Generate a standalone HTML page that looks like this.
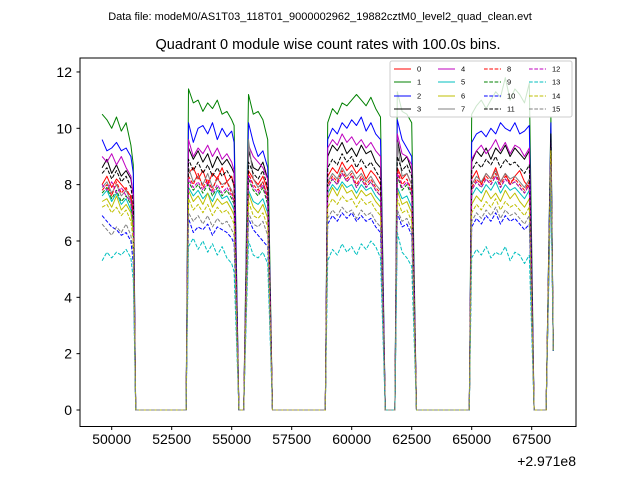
<!DOCTYPE html>
<html><head><meta charset="utf-8"><style>
body{margin:0;background:#fff;}
svg{display:block;font-family:"Liberation Sans","DejaVu Sans",sans-serif;}
</style></head><body>
<svg id="chart" width="640" height="480" viewBox="0 0 640 480">
<rect width="640" height="480" fill="#fff"/>
<text x="320" y="20" font-size="11" text-anchor="middle">Data file: modeM0/AS1T03_118T01_9000002962_19882cztM0_level2_quad_clean.evt</text>
<text x="328" y="49" font-size="14.5" text-anchor="middle">Quadrant 0 module wise count rates with 100.0s bins.</text>
<g id="plot"></g>
<rect x="80" y="58" width="496" height="368.5" fill="none" stroke="#000" stroke-width="1"/>
<g id="xt"></g>
<g id="yt"></g>
<text x="576" y="466" font-size="14" text-anchor="end">+2.971e8</text>
<g id="legend"></g>
</svg>
<script>
const segTimes=[[49600,49800,50000,50200,50400,50600,50800,50900],
[53200,53400,53600,53800,54000,54200,54400,54600,54800,55000,55100],
[55700,55900,56100,56300,56500],
[59000,59200,59400,59600,59800,60000,60200,60400,60600,60800,61000,61200],
[61900,62100,62300,62500],
[65000,65200,65400,65600,65800,66000,66200,66400,66600,66800,67000,67200,67400],
[68300,68400]];
const gapTimes=[[51000,53100],[55300,55500],[56700,58900],[61400,61800],[62700,64900],[67600,68100]];
const xTicks=[50000,52500,55000,57500,60000,62500,65000,67500];
const yTicks=[0,2,4,6,8,10,12];
const labels=["0","1","2","3","4","5","6","7","8","9","10","11","12","13","14","15"];
const s0=[8.0,8.3,7.9,8.2,8.0,7.8,7.6,7.0, 8.4,8.6,8.2,8.5,8.0,8.4,8.2,8.6,8.1,8.3,7.9, 8.5,8.2,8.0,8.3,7.8, 8.3,8.6,8.4,8.8,8.5,8.7,8.4,8.6,8.2,8.5,8.3,8.0, 8.6,8.2,8.4,8.0, 8.2,8.5,8.0,8.4,8.2,8.6,8.1,8.4,8.0,8.3,8.5,8.1,7.9, 9.2,2.1];
const s1=[10.5,10.3,10.0,10.4,9.9,10.2,9.4,8.7, 11.4,10.9,11.0,10.6,10.9,10.7,11.0,10.5,10.6,10.3,10.1, 11.2,10.5,10.6,10.3,9.6, 10.2,10.7,10.5,10.9,10.8,11.0,11.2,11.0,10.8,11.1,10.7,10.4, 11.3,10.6,10.5,10.2, 10.5,10.8,11.0,10.7,11.0,11.3,11.1,11.8,11.0,11.4,11.2,10.9,11.6, 10.4,2.1];
const s2=[9.6,9.2,9.3,9.5,9.2,9.3,9.0,8.4, 10.2,9.5,10.0,10.1,9.8,10.2,9.6,10.0,9.7,9.9,9.5, 10.2,9.5,9.0,9.2,8.6, 9.6,10.0,9.8,10.2,10.0,10.3,10.1,10.4,9.9,10.2,9.8,9.6, 10.3,9.6,9.3,9.0, 9.5,9.8,9.9,9.7,10.0,9.8,10.2,10.0,9.9,10.2,9.8,9.9,10.1, 10.2,2.1];
const s3=[8.6,8.9,8.4,8.7,8.3,8.5,8.2,7.6, 9.3,8.9,9.2,8.8,9.1,8.6,9.0,8.7,8.9,8.6,8.4, 9.2,8.6,8.5,8.8,8.2, 9.0,9.4,9.2,9.5,9.1,9.3,9.0,9.4,9.1,9.2,8.8,8.6, 9.6,8.8,9.0,8.5, 8.8,9.2,9.0,9.3,8.9,9.3,9.1,9.4,9.0,9.3,9.1,8.9,9.2, 9.8,2.1];
const s4=[9.0,8.8,9.1,8.7,9.0,8.6,8.3,7.6, 9.6,9.0,9.3,9.1,9.4,9.0,9.3,8.9,9.1,8.8,8.5, 9.4,9.0,8.8,8.6,8.2, 9.3,9.6,9.4,9.8,9.5,9.7,9.4,9.6,9.3,9.5,9.2,9.0, 9.8,9.1,9.0,8.7, 8.9,9.2,9.4,9.1,9.3,9.6,9.2,9.5,9.1,9.4,9.3,9.0,9.3, 9.5,2.1];
const s5=[7.6,7.8,7.4,7.7,7.3,7.5,7.1,6.4, 7.9,7.6,7.8,7.5,7.7,7.4,7.8,7.5,7.6,7.3,7.1, 7.8,7.4,7.3,7.5,7.0, 7.7,8.0,7.8,8.1,7.9,8.0,7.7,8.0,7.8,7.9,7.6,7.4, 7.9,7.5,7.6,7.2, 7.6,7.9,7.7,8.0,7.8,8.1,7.7,8.0,7.8,7.9,7.7,7.5,7.8, 8.6,2.1];
const s6=[7.4,7.5,7.2,7.6,7.1,7.3,7.0,6.3, 7.8,7.4,7.6,7.3,7.7,7.2,7.5,7.3,7.4,7.1,6.9, 7.7,7.2,7.0,7.3,6.8, 7.5,7.9,7.6,8.0,7.7,7.8,7.5,7.8,7.6,7.7,7.4,7.2, 7.8,7.3,7.4,7.0, 7.3,7.6,7.4,7.8,7.5,7.7,7.4,7.8,7.5,7.7,7.4,7.2,7.5, 9.3,2.1];
const s7=[7.9,8.1,7.7,8.0,7.6,7.8,7.4,6.8, 8.6,8.1,8.3,8.0,8.4,7.9,8.2,8.0,8.1,7.8,7.6, 9.6,8.2,7.9,8.1,7.6, 8.1,8.4,8.2,8.6,8.3,8.5,8.2,8.4,8.1,8.3,8.0,7.8, 9.5,8.3,8.4,8.0, 8.0,8.3,8.1,8.4,8.2,8.5,8.1,8.4,8.2,8.3,8.1,7.9,8.2, 9.0,2.1];
const s8=[7.8,8.0,7.6,8.1,7.7,7.9,7.5,6.9, 8.3,8.0,8.4,7.9,8.2,7.8,8.3,7.9,8.1,7.7,7.5, 8.4,8.0,7.8,8.1,7.5, 8.0,8.3,8.1,8.5,8.2,8.4,8.0,8.3,8.0,8.2,7.9,7.7, 8.5,8.0,8.2,7.8, 7.9,8.2,8.0,8.3,8.1,8.4,8.0,8.3,8.1,8.2,8.0,7.8,8.1, 9.0,2.1];
const s9=[7.7,7.9,7.5,7.8,7.4,7.6,7.3,6.6, 8.1,7.8,8.0,7.7,8.0,7.6,7.9,7.6,7.8,7.5,7.3, 8.2,7.8,7.6,7.9,7.3, 7.9,8.2,8.0,8.4,8.1,8.3,7.9,8.2,7.9,8.1,7.8,7.6, 8.3,7.8,8.0,7.6, 7.8,8.1,7.9,8.2,8.0,8.3,7.9,8.2,8.0,8.1,7.9,7.7,8.0, 8.8,2.1];
const s10=[6.9,6.7,6.5,6.4,6.2,6.3,6.0,5.2, 6.8,6.3,6.5,6.4,6.6,6.2,6.5,6.4,6.3,6.1,5.9, 6.8,6.4,6.2,6.0,5.8, 6.6,6.9,6.7,7.0,6.8,7.0,6.7,6.9,6.7,6.8,6.5,6.3, 7.0,6.5,6.6,6.2, 6.5,6.8,6.6,6.9,6.7,7.0,6.6,6.9,6.7,6.8,6.6,6.4,6.6, 8.5,2.1];
const s11=[8.4,8.6,8.2,8.5,8.1,8.3,7.9,7.3, 8.9,8.5,8.8,8.4,8.7,8.3,8.6,8.3,8.5,8.2,8.0, 8.8,8.4,8.2,8.5,7.9, 8.6,8.9,8.7,9.1,8.8,9.0,8.6,8.9,8.6,8.8,8.5,8.2, 9.0,8.5,8.7,8.3, 8.5,8.8,8.6,8.9,8.7,9.0,8.6,8.9,8.7,8.8,8.6,8.4,8.7, 9.6,2.1];
const s12=[8.0,7.8,8.1,7.7,7.9,7.6,7.4,6.7, 8.2,7.9,8.1,7.8,8.1,7.7,8.0,7.7,7.9,7.6,7.4, 8.3,7.9,7.7,8.0,7.4, 7.9,8.2,8.0,8.4,8.1,8.3,7.9,8.2,7.9,8.1,7.8,7.6, 8.4,7.9,8.1,7.7, 7.8,8.1,7.9,8.2,8.0,8.3,7.9,8.2,8.0,8.1,7.9,7.7,8.0, 8.9,2.1];
const s13=[5.3,5.6,5.4,5.6,5.5,5.7,5.4,4.6, 5.8,6.1,5.7,6.0,5.6,5.9,5.5,5.8,5.4,5.2,4.9, 6.0,5.5,5.4,5.6,5.2, 5.3,5.7,5.5,5.9,5.6,5.8,5.5,5.9,5.7,6.0,5.8,5.4, 6.3,5.6,5.4,5.1, 5.4,5.7,5.5,5.8,5.4,5.6,5.5,5.8,5.3,5.6,5.5,5.2,5.5, 8.0,2.1];
const s14=[7.2,7.3,7.0,7.2,6.9,7.1,6.7,6.0, 7.5,7.1,7.3,7.0,7.3,6.9,7.2,7.0,7.1,6.8,6.6, 7.4,6.9,6.8,7.0,6.5, 7.2,7.5,7.3,7.6,7.4,7.5,7.2,7.5,7.3,7.4,7.1,6.9, 7.5,7.0,7.1,6.7, 7.0,7.3,7.1,7.4,7.2,7.5,7.1,7.4,7.2,7.3,7.1,6.9,7.2, 9.2,2.1];
const s15=[6.6,6.4,6.2,6.5,6.3,6.6,6.2,5.6, 7.0,6.7,6.9,6.6,6.9,6.5,6.8,6.6,6.7,6.4,6.2, 7.0,6.6,6.5,6.7,6.2, 6.8,7.1,6.9,7.2,7.0,7.1,6.8,7.1,6.9,7.0,6.7,6.5, 7.1,6.7,6.8,6.4, 6.7,7.0,6.8,7.1,6.9,7.2,6.8,7.1,6.9,7.0,6.8,6.6,6.9, 8.7,2.1];
const series=[s0,s1,s2,s3,s4,s5,s6,s7,s8,s9,s10,s11,s12,s13,s14,s15];
const colors=["#ff0000","#008000","#0000ff","#000000","#bf00bf","#00bfbf","#bfbf00","#808080"];
const NS="http://www.w3.org/2000/svg";
const X0=111.7,XS=0.024,Y0=410,YS=28.17;
const xs=t=>X0+(t-50000)*XS, ys=v=>Y0-v*YS;
function mk(tag,attrs,parent){const e=document.createElementNS(NS,tag);for(const k in attrs)e.setAttribute(k,attrs[k]);parent.appendChild(e);return e;}
const plot=document.getElementById('plot');
series.forEach((vals,si)=>{
  const pts=[];let k=0;
  segTimes.forEach((seg,gi)=>{
    seg.forEach(t=>{pts.push([t,vals[k++]]);});
    if(gi<gapTimes.length) gapTimes[gi].forEach(t=>pts.push([t,0]));
  });
  const d=pts.map((p,i)=>(i?'L':'M')+xs(p[0]).toFixed(1)+','+ys(p[1]).toFixed(1)).join('');
  const a={d:d,fill:'none',stroke:colors[si%8],'stroke-width':1,'stroke-linejoin':'round'};
  if(si>=8)a['stroke-dasharray']='3.7,1.6';
  const p=mk('path',a,plot);
  
  
});
const xt=document.getElementById('xt');
xTicks.forEach(t=>{
  const x=xs(t);
  mk('line',{x1:x,x2:x,y1:426.5,y2:430,stroke:'#000'},xt);
  const tx=mk('text',{x:x,y:444,'font-size':14,'text-anchor':'middle'},xt);
  tx.textContent=t;
  
  
});
const yt=document.getElementById('yt');
yTicks.forEach(v=>{
  const y=ys(v);
  mk('line',{x1:76.5,x2:80,y1:y,y2:y,stroke:'#000'},yt);
  const tx=mk('text',{x:72,y:y+5,'font-size':14,'text-anchor':'end'},yt);
  tx.textContent=v;
  
  
});
const lg=document.getElementById('legend');
mk('rect',{x:390,y:61,width:182,height:56,fill:'#fff','fill-opacity':0.8,stroke:'#ccc',rx:2},lg);
const colX=[394,438,484,529],rowY=[69,82,96,109];
labels.forEach((l,i)=>{
  const c=Math.floor(i/4),r=i%4,x=colX[c],y=rowY[r];
  const a={x1:x,x2:x+17,y1:y,y2:y,stroke:colors[i%8],'stroke-width':1};
  if(i>=8)a['stroke-dasharray']='3.7,1.6';
  const ln=mk('line',a,lg);
  
  
  const tx=mk('text',{x:x+23+(i>=10&&c<3?0:0),y:y+2.5,'font-size':7.5},lg);
  tx.textContent=l;
  
  
});
</script>
</body></html>
